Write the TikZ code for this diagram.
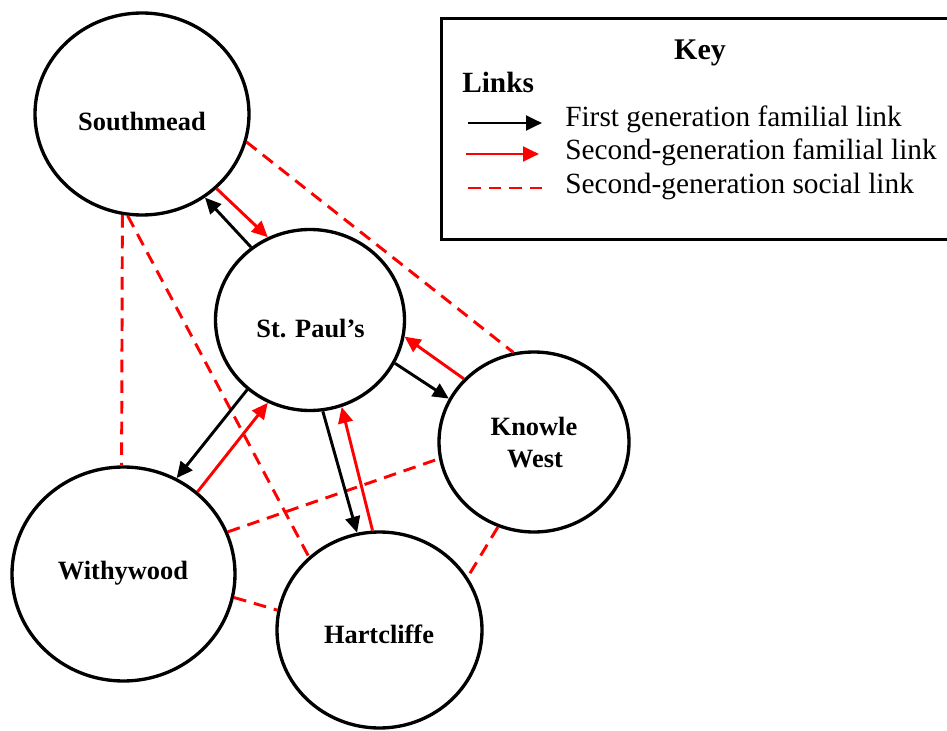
\documentclass[tikz,border=0pt]{standalone}
\usepackage{fontspec}
\setmainfont{Liberation Serif}
\usetikzlibrary{shapes.geometric,arrows.meta}
\begin{document}
\begin{tikzpicture}[x=0.75pt,y=-0.75pt]
\tikzset{
 place/.style={draw, ellipse, fill=white, line width=2.5pt, inner sep=0pt},
 lbl/.style={font=\bfseries\fontsize{19.8}{24}\selectfont, anchor=base, inner sep=0pt},
 firstgen/.style={draw=black, line width=2.2pt, -{Triangle[length=12pt,width=11pt]}},
 secondgen/.style={draw=red, color=red, line width=2.2pt, -{Triangle[length=12pt,width=11pt]}},
 social/.style={draw=red, line width=2.2pt, dash pattern=on 9.5pt off 6pt},
 keytext/.style={font=\fontsize{22}{26}\selectfont, anchor=base west, inner sep=0pt},
}
\useasboundingbox (0,0) rectangle (947,731);

% places
\node[place, minimum width=160.5pt, minimum height=151.5pt] (sm) at (142,114) {};
\node[place, minimum width=141.75pt, minimum height=135.75pt] (sp) at (310,320) {};
\node[place, minimum width=142.5pt, minimum height=135pt] (kw) at (534,442) {};
\node[place, minimum width=167.25pt, minimum height=160.5pt] (ww) at (123.5,574) {};
\node[place, minimum width=153.75pt, minimum height=147pt] (hc) at (379.5,630) {};

\node[lbl] (smt) at (142,131) {Southmead};
\node[lbl] (spt) at (310.5,337) {St. Paul’s};
\node[lbl] (kwt1) at (534,435) {Knowle};
\node[lbl] (kwt2) at (535,467) {West};
\node[lbl] (wwt) at (123,579) {Withywood};
\node[lbl] (hct) at (379,643) {Hartcliffe};

% social links
\draw[social] (sm.-15) -- (kw.103);
\draw[social] (sm.-101) -- (ww.91);
\draw[social] (sm.-98) -- (hc.134);
\draw[social] (ww.22) -- (kw.190);
\draw[social] (ww.-12) -- (hc.169);
\draw[social] (kw.-113) -- (hc.31);

% familial links
\draw[firstgen] (sp.129) -- (sm.-53);
\draw[secondgen] (sm.-45) -- (sp.117);
\draw[firstgen] (sp.-132) -- (ww.61);
\draw[secondgen] (ww.48) -- (sp.-117);
\draw[firstgen] (sp.-82) -- (hc.103);
\draw[secondgen] (hc.94) -- (sp.-70);
\draw[firstgen] (sp.-27) -- (kw.153);
\draw[secondgen] (kw.138) -- (sp.-10);

% key
\node[draw, line width=2.5pt, minimum width=382.5pt, minimum height=165.75pt, anchor=north west, inner sep=0pt] (keybox) at (440,17) {};
\node[font=\bfseries\fontsize{22.5}{26}\selectfont, anchor=base, inner sep=0pt] (keyt) at (700,60) {Key};
\node[font=\bfseries\fontsize{22}{26}\selectfont, anchor=base west, inner sep=0pt] (linkst) at (462,93) {Links};
\coordinate (k1a) at (468,123); \coordinate (k1b) at (542,123);
\coordinate (k2a) at (466,154); \coordinate (k2b) at (539,154);
\coordinate (k3a) at (468,188); \coordinate (k3b) at (542,188);
\draw[firstgen] (k1a) -- (k1b);
\draw[secondgen] (k2a) -- (k2b);
\draw[social] (k3a) -- (k3b);
\node[keytext] (kt1) at (565,127) {First generation familial link};
\node[keytext] (kt2) at (565,160) {Second-generation familial link};
\node[keytext] (kt3) at (565,194) {Second-generation social link};
\end{tikzpicture}
\end{document}
